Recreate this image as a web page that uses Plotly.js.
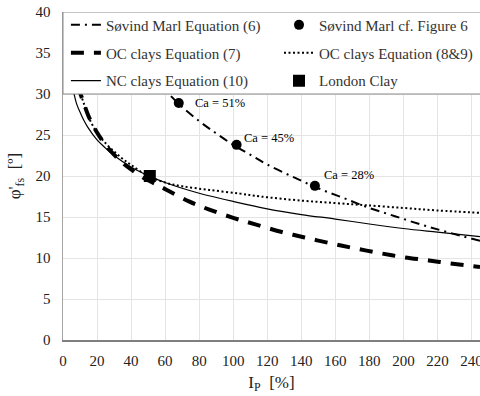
<!DOCTYPE html>
<html>
<head>
<meta charset="utf-8">
<script src="https://cdn.plot.ly/plotly-3.0.1.min.js"></script>
<style>
html,body{margin:0;padding:0;background:#fff}
#chart{width:480px;height:396px}
#chart svg text, #chart svg tspan {font-family:'Liberation Serif','Times New Roman',serif !important;}
</style>
</head>
<body>
<div id="chart"></div>
<script>
// Søvind Marl Equation (6)
const sovEqX = [55, 60, 68, 80, 90, 100, 110, 120, 135, 150, 165, 180, 195, 210, 225, 245];
const sovEqY = [31.6, 30.5, 28.8, 26.7, 25.2, 23.8, 22.6, 21.4, 19.9, 18.5, 17.3, 16.1, 15.1, 14.1, 13.2, 12.1];
// OC clays Equation (7)
const oc7X = [9, 10, 12, 15, 20, 25, 30, 35, 40, 47, 55, 61, 74, 86, 100, 113, 128, 142, 157, 171, 186, 200, 215, 229, 245];
const oc7Y = [31, 30.2, 29.0, 27.3, 25.3, 23.8, 22.6, 21.6, 20.8, 19.8, 18.95, 18.3, 16.9, 15.9, 14.9, 14.1, 13.2, 12.5, 11.8, 11.2, 10.6, 10.1, 9.7, 9.3, 8.9];
// OC clays Equation (8&9)
const oc89X = [9, 10, 12, 15, 20, 25, 30, 35, 40, 50, 60, 70, 86, 104, 116, 140, 160, 177, 200, 220, 245];
const oc89Y = [31, 30.2, 29.0, 27.2, 25.3, 24.0, 23.0, 22.1, 21.35, 20.0, 19.2, 18.75, 18.3, 17.85, 17.5, 17.0, 16.7, 16.45, 16.1, 15.8, 15.5];
// NC clays Equation (10)
const ncX = [5.5, 6.5, 8, 10, 12, 15, 20, 25, 30, 40, 50, 60, 70, 80, 100, 120, 140, 160, 180, 200, 220, 245];
const ncY = [30.8, 30.0, 28.8, 27.8, 26.9, 25.8, 24.4, 23.4, 22.5, 21.1, 20.05, 19.2, 18.5, 17.9, 16.9, 16.0, 15.3, 14.75, 14.15, 13.6, 13.15, 12.6];
// Søvind Marl cf. Figure 6
const sovFigX = [68, 102, 148];
const sovFigY = [28.9, 23.8, 18.8];
const sovFigLabels = ['Ca = 51%', 'Ca = 45%', 'Ca = 28%'];
// London Clay
const londonX = [51];
const londonY = [20];

const xTicks = [0, 20, 40, 60, 80, 100, 120, 140, 160, 180, 200, 220, 240];
const yTicks = [0, 5, 10, 15, 20, 25, 30, 35, 40];

const FONT = "'Liberation Serif', 'Times New Roman', serif";

const traces = [
  {x: sovEqX, y: sovEqY, mode: 'lines', name: 'Søvind Marl Equation (6)', legend: 'legend',
   line: {color: '#000', width: 2, dash: '9px,5px,2px,5px', shape: 'spline'}},
  {x: oc7X, y: oc7Y, mode: 'lines', name: 'OC clays Equation (7)', legend: 'legend3',
   line: {color: '#000', width: 4, dash: '13px,10px', shape: 'spline'}},
  {x: oc89X, y: oc89Y, mode: 'lines', name: 'OC clays Equation (8&9)', legend: 'legend4',
   line: {color: '#000', width: 2, dash: '2px,2.5px', shape: 'spline'}},
  {x: ncX, y: ncY, mode: 'lines', name: 'NC clays Equation (10)', legend: 'legend5',
   line: {color: '#000', width: 1.2, shape: 'spline'}},
  {x: sovFigX, y: sovFigY, mode: 'markers', name: 'Søvind Marl cf. Figure 6', legend: 'legend2',
   marker: {color: '#000', size: 10, symbol: 'circle'}},
  {x: londonX, y: londonY, mode: 'markers', name: 'London Clay', legend: 'legend6',
   marker: {color: '#000', size: 12, symbol: 'square'}}
];

const shifts = [[14, 0], [5, 7], [7, 11]];
const annotations = sovFigX.map((xv, i) => ({
  x: xv, y: sovFigY[i], xref: 'x', yref: 'y', text: sovFigLabels[i], showarrow: false,
  xanchor: 'left', yanchor: 'middle', xshift: shifts[i][0], yshift: shifts[i][1],
  font: {size: 12.5, color: '#000'}
}));

function legendAt(x, y) {
  return {x: x, y: y, xanchor: 'left', yanchor: 'middle',
    bgcolor: 'rgba(0,0,0,0)', borderwidth: 0,
    font: {size: 15, color: '#333'}};
}
const col1 = 0.007, col2 = 0.518;
const row1 = 0.960, row2 = 0.875, row3 = 0.790;

const layout = {
  width: 480, height: 396,
  margin: {l: 63, r: 0, t: 12, b: 56, pad: 0},
  paper_bgcolor: '#fff', plot_bgcolor: '#fff',
  showlegend: true,
  legend: legendAt(col1, row1),
  legend2: legendAt(col2, row1),
  legend3: legendAt(col1, row2),
  legend4: legendAt(col2, row2),
  legend5: legendAt(col1, row3),
  legend6: legendAt(col2, row3),
  font: {family: FONT, size: 15},
  xaxis: {
    range: [0, 245], tickvals: xTicks, ticktext: xTicks.map(String),
    showgrid: true, gridcolor: '#e4e4e4', gridwidth: 1,
    zeroline: false, showline: true, linecolor: '#7f7f7f', linewidth: 1.5,
    ticks: '', ticklabelstandoff: 6, ticklabeloverflow: 'allow',
    tickfont: {size: 15, color: '#222'},
    title: {text: 'I<sub>P</sub>  [%]', font: {size: 17, color: '#222'}, standoff: 8}
  },
  yaxis: {
    range: [0, 40], tickvals: yTicks, ticktext: yTicks.map(String),
    showgrid: true, gridcolor: '#e4e4e4', gridwidth: 1,
    zeroline: false, showline: true, linecolor: '#a6a6a6', linewidth: 1.5,
    ticks: '', ticklabelstandoff: 8,
    tickfont: {size: 15, color: '#222'},
    title: {text: "φ'<sub>fs</sub>  [º]", font: {size: 17, color: '#222'}, standoff: 10}
  },
  shapes: [{
    type: 'rect', xref: 'paper', yref: 'y', x0: 0, x1: 1.02, y0: 30, y1: 40,
    fillcolor: '#fff', line: {color: '#8c8c8c', width: 1}, layer: 'above'
  }],
  annotations: annotations
};

Plotly.newPlot('chart', traces, layout, {displayModeBar: false, staticPlot: true});
</script>
</body>
</html>
